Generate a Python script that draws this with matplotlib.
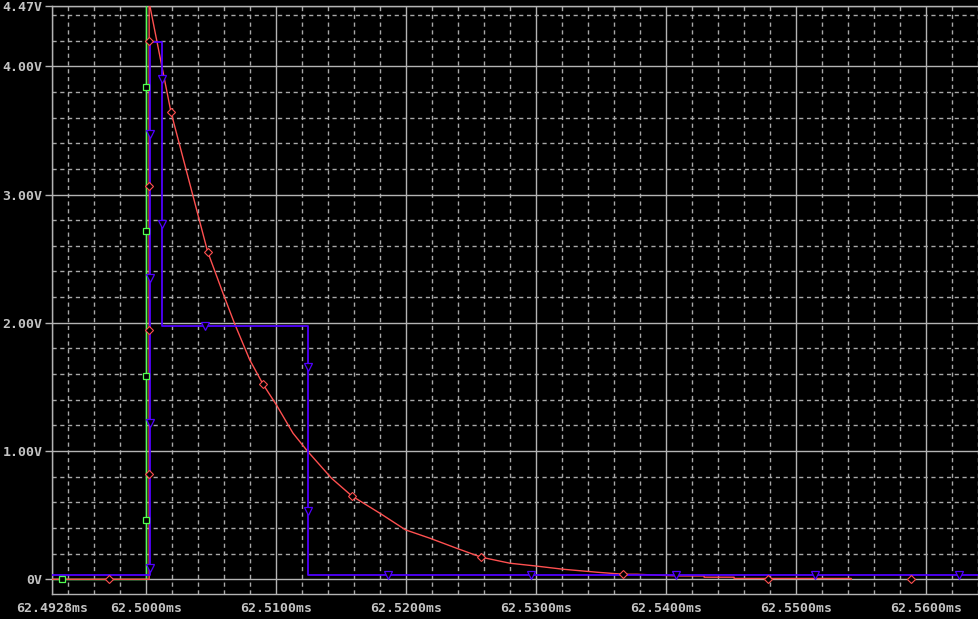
import matplotlib
matplotlib.use("Agg")
import matplotlib.pyplot as plt
import numpy as np

# ---------------- data (time in ms, voltage in V) ----------------
green_t = [62.4928, 62.5000, 62.5000, 62.5641]
green_v = [0.0, 0.0, 5.0, 5.0]

red_t = [62.4928, 62.50025, 62.50025, 62.50193, 62.50475, 62.50593, 62.50681,
         62.50799, 62.50901, 62.51004, 62.51132, 62.51240, 62.51428, 62.51584,
         62.51800, 62.51998, 62.52185, 62.52390, 62.52580, 62.52801, 62.52993,
         62.53211, 62.53469, 62.53673, 62.53779, 62.53956, 62.54106, 62.54295,
         62.54295, 62.54526, 62.54526, 62.55427, 62.55427]
red_v = [0.0, 0.0, 4.50, 3.643, 2.555, 2.231, 1.997,
         1.711, 1.521, 1.360, 1.139, 1.003, 0.788, 0.650,
         0.515, 0.385, 0.320, 0.242, 0.172, 0.125, 0.104,
         0.078, 0.055, 0.039, 0.039, 0.031, 0.026, 0.026,
         0.016, 0.016, 0.006, 0.006, 0.0]

blue_t = [62.4928, 62.50032, 62.50032, 62.50123, 62.50123, 62.51248, 62.51248, 62.5641]
blue_v = [0.03, 0.03, 4.19, 4.19, 1.975, 1.975, 0.03, 0.03]

# trace symbols
green_mk_t = [62.49355, 62.5000, 62.5000, 62.5000, 62.5000]
green_mk_v = [0.0, 0.46, 1.585, 2.715, 3.84]

red_mk_t = [62.49715, 62.50025, 62.50025, 62.50025, 62.50025, 62.50193, 62.50475,
            62.50901, 62.51584, 62.52580, 62.53673, 62.54786, 62.55887]
red_mk_v = [0.0, 0.82, 1.94, 3.07, 4.195, 3.643, 2.555,
            1.521, 0.650, 0.172, 0.039, 0.005, 0.0]

blue_mk_t = [62.50032, 62.50032, 62.50032, 62.50032, 62.50123, 62.50123, 62.50454,
             62.51248, 62.51248, 62.51866, 62.52966, 62.54075, 62.55148, 62.56258]
blue_mk_v = [0.09, 1.22, 2.35, 3.475, 3.90, 2.77, 1.975,
             1.658, 0.535, 0.03, 0.03, 0.03, 0.03, 0.03]

x_major = [62.4928, 62.50, 62.51, 62.52, 62.53, 62.54, 62.55, 62.56]
x_labels = ["62.4928ms", "62.5000ms", "62.5100ms", "62.5200ms", "62.5300ms",
            "62.5400ms", "62.5500ms", "62.5600ms"]
y_major = [0.0, 1.0, 2.0, 3.0, 4.0, 4.47]
y_labels = ["0V", "1.00V", "2.00V", "3.00V", "4.00V", "4.47V"]

# ---------------- styling ----------------
BG = "black"
GRID = "#b4b4b4"
TXT = "#c4c4c4"
GREEN = "#50ff50"
RED = "#ff5050"
BLUE = "#5000ff"

plt.rcParams["lines.scale_dashes"] = False
plt.rcParams["font.family"] = ["DejaVu Sans Mono"]

fig = plt.figure(figsize=(9.79, 6.19), dpi=100, facecolor=BG)
W, H = 979, 619
ax = fig.add_axes([52.3 / W, (H - 594) / H, (W - 52.3) / W, (594 - 6) / H])
ax.set_facecolor(BG)

ax.set_xlim(62.4928, 62.5641)
ax.set_ylim(-0.115, 4.47)

ax.set_xticks(x_major)
ax.set_xticklabels(x_labels)
ax.set_yticks(y_major)
ax.set_yticklabels(y_labels)

xm = [62.494 + 0.002 * i for i in range(36)]
xm = [v for v in xm if all(abs(v - m) > 1e-6 for m in x_major) and v < 62.5641]
ym = [0.2 * i for i in range(1, 23)]
ym = [v for v in ym if abs(v - round(v)) > 1e-6]
ax.set_xticks(xm, minor=True)
ax.set_yticks(ym, minor=True)

ax.grid(which="major", color=GRID, linewidth=1.0, linestyle="-", zorder=0)
ax.grid(which="minor", color="#a8a8a8", linewidth=1.0, linestyle=(0, (3.0, 2.6)), zorder=0)
ax.set_axisbelow(True)

ax.tick_params(axis="x", which="both", length=0, pad=6, colors=TXT, labelsize=9.5)
ax.tick_params(axis="y", which="major", length=5, width=1.0, color=GRID, pad=2,
               colors=TXT, labelsize=9.5)
ax.tick_params(axis="y", which="minor", length=0)
ax.tick_params(axis="y", which="major", color=GRID)
for lab in ax.get_xticklabels() + ax.get_yticklabels():
    lab.set_fontweight("bold")
    lab.set_color(TXT)

for s in ["left", "bottom", "top"]:
    ax.spines[s].set_color(GRID)
    ax.spines[s].set_linewidth(1.0)
ax.spines["right"].set_visible(False)

# ---------------- traces ----------------
ax.plot(green_t, green_v, color=GREEN, linewidth=1.0, zorder=3, clip_on=True)
ax.plot(red_t, red_v, color=RED, linewidth=1.0, zorder=4, clip_on=True)
ax.plot(blue_t, blue_v, color=BLUE, linewidth=1.3, zorder=5, clip_on=True)

ax.plot(green_mk_t, green_mk_v, linestyle="none", marker="s", markersize=4.8,
        markerfacecolor=BG, markeredgecolor=GREEN, markeredgewidth=0.9, zorder=6)
ax.plot(red_mk_t, red_mk_v, linestyle="none", marker="D", markersize=3.6,
        markerfacecolor=BG, markeredgecolor=RED, markeredgewidth=0.8, zorder=7)
ax.plot(blue_mk_t, blue_mk_v, linestyle="none", marker="v", markersize=5.2,
        markerfacecolor=BG, markeredgecolor=BLUE, markeredgewidth=0.9, zorder=8)

fig.savefig("out.png", dpi=100, facecolor=BG)
